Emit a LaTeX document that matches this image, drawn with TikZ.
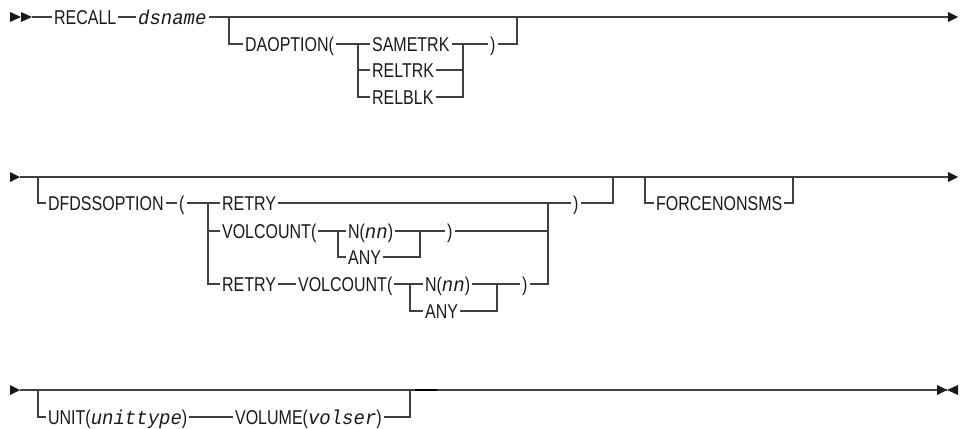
\documentclass[tikz,border=0pt]{standalone}
\usepackage{fontspec}
\setmainfont{Liberation Sans}[FakeStretch=0.8]
\newfontfamily\varfont{Liberation Mono}[FakeStretch=0.95]
\newcommand\var[1]{{\varfont\itshape #1}}
\usetikzlibrary{arrows.meta}

\begin{document}
\begin{tikzpicture}[x=1pt, y=-1pt, line width=1.2pt, color=black!75,
  kw/.style={anchor=west, inner sep=1.5pt, text height=14.3pt, text depth=0pt,
    text=black!90, font=\fontsize{20}{24}\selectfont},
  head/.style={fill=black!90, draw=none}]
  \useasboundingbox (0,0) rectangle (965,428);
  % Row 1: RECALL dsname [DAOPTION(...)]
  \fill[head] (10,12) -- (21,17) -- (10,22) -- cycle;
  \fill[head] (21,12) -- (32,17) -- (21,22) -- cycle;
  \coordinate (s1) at (32,17);
  \coordinate (b1) at (229,17);
  \coordinate (b1e) at (517,17);
  \coordinate (e1) at (948,17);
  \node[kw] (recall) at (52,17) {RECALL};
  \node[kw] (dsname) at (136,17) {\var{dsname}};
  \node[kw] (daopt) at (243,44) {DAOPTION(};
  \coordinate (j1) at (358,44);
  \coordinate (k1) at (463,44);
  \node[kw] (sametrk) at (370,44) {SAMETRK};
  \node[kw] (reltrk) at (370,70) {RELTRK};
  \node[kw] (relblk) at (370,97) {RELBLK};
  \node[kw] (rpar1) at (488,44) {)};
  \draw (s1) -- (recall) -- (dsname) -- (e1);
  \fill[head] (948,12) -- (958,17) -- (948,22) -- cycle;
  \draw (b1) |- (daopt);
  \draw (daopt) -- (sametrk) -- (rpar1) -| (b1e);
  \draw (j1) |- (reltrk) -| (k1);
  \draw (j1) |- (relblk) -| (k1);

  % Row 2: [DFDSSOPTION-(...)] [FORCENONSMS]
  \fill[head] (10,172) -- (20,177) -- (10,182) -- cycle;
  \coordinate (s2) at (20,177);
  \coordinate (e2) at (948,177);
  \coordinate (b2) at (38,177);
  \coordinate (b2e) at (613,177);
  \coordinate (b3) at (645,177);
  \coordinate (b3e) at (793,177);
  \draw (s2) -- (e2);
  \fill[head] (948,172) -- (958,177) -- (948,182) -- cycle;
  \node[kw] (dfdss) at (46,203) {DFDSSOPTION};
  \node[kw] (lpar2) at (177,203) {(};
  \coordinate (j2) at (208,203);
  \coordinate (k2) at (548,203);
  \node[kw] (retry1) at (220,203) {RETRY};
  \node[kw] (rpar2) at (571,203) {)};
  \node[kw] (volc1) at (220,231) {VOLCOUNT(};
  \coordinate (j3) at (338,231);
  \coordinate (k3) at (420,231);
  \node[kw] (n1) at (346,231) {N(\var{nn})};
  \node[kw] (any1) at (346,257) {ANY};
  \node[kw] (rpar3) at (445,231) {)};
  \node[kw] (retry2) at (220,284) {RETRY};
  \node[kw] (volc2) at (296,284) {VOLCOUNT(};
  \coordinate (j4) at (410,284);
  \coordinate (k4) at (497,284);
  \node[kw] (n2) at (423,284) {N(\var{nn})};
  \node[kw] (any2) at (423,311) {ANY};
  \node[kw] (rpar4) at (520,284) {)};
  \draw (b2) |- (dfdss);
  \draw (dfdss) -- (lpar2) -- (retry1) -- (rpar2) -| (b2e);
  \draw (j2) |- (volc1);
  \draw (j2) |- (retry2);
  \draw (volc1) -- (n1) -- (rpar3) -| (k2);
  \draw (j3) |- (any1) -| (k3);
  \draw (retry2) -- (volc2) -- (n2) -- (rpar4) -| (k2);
  \draw (j4) |- (any2) -| (k4);
  \node[kw] (force) at (654,203) {FORCENONSMS};
  \draw (b3) |- (force) -| (b3e);

  % Row 3: [UNIT(unittype) VOLUME(volser)]
  \fill[head] (10,385) -- (20,390) -- (10,395) -- cycle;
  \coordinate (s3) at (20,390);
  \coordinate (e3) at (947,390);
  \coordinate (b4) at (38,390);
  \coordinate (b4e) at (410,390);
  \draw (s3) -- (e3);
  \draw[line width=1.8pt, black] (415,390) -- (437,390);
  \fill[head] (937,385) -- (947,390) -- (937,395) -- cycle;
  \fill[head] (958,385) -- (947,390) -- (958,395) -- cycle;
  \node[kw] (unit) at (46,417) {UNIT(\var{unittype})};
  \node[kw] (volume) at (233,417) {VOLUME(\var{volser})};
  \draw (b4) |- (unit) -- (volume) -| (b4e);
\end{tikzpicture}
\end{document}
